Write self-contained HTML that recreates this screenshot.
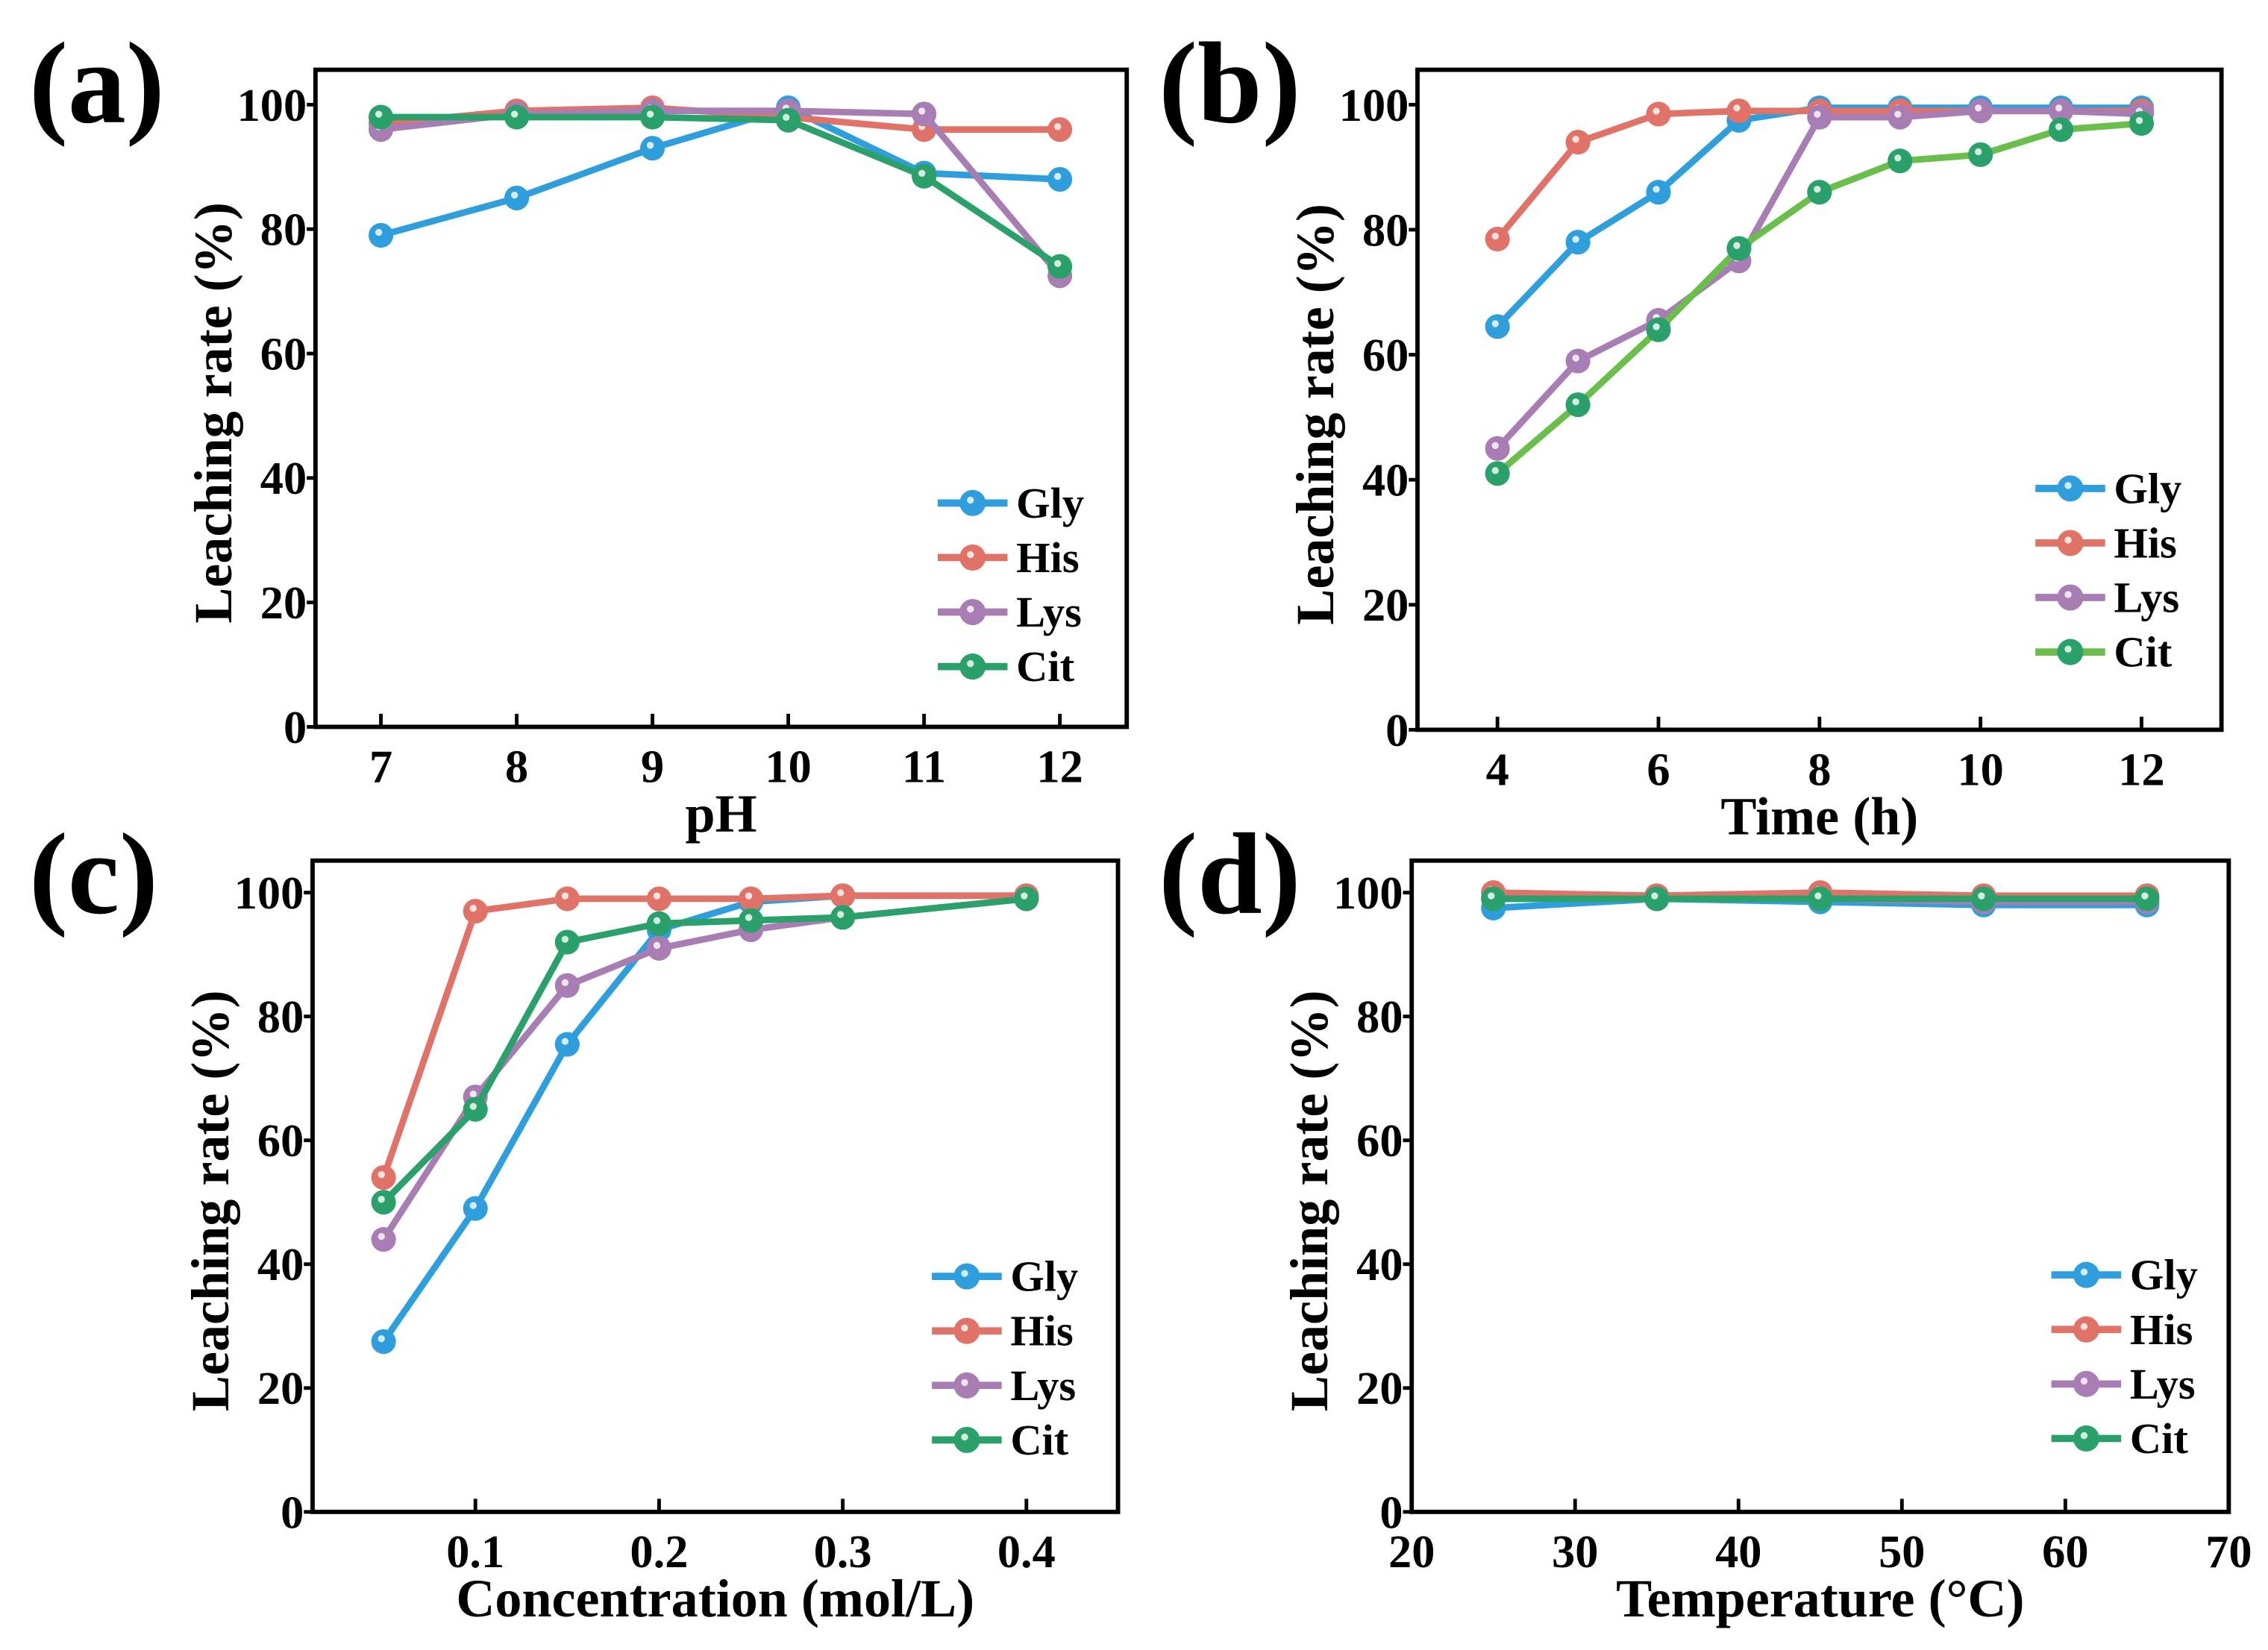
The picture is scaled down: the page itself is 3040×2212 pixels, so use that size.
<!DOCTYPE html>
<html><head><meta charset="utf-8"><style>
html,body{margin:0;padding:0;background:#fff;}
svg{display:block;font-family:"Liberation Serif",serif;font-weight:bold;}
</style></head><body>
<svg id="fig" width="3040" height="2212" viewBox="0 0 1560 1135" preserveAspectRatio="none" xmlns="http://www.w3.org/2000/svg"></svg>
<script>
// Panel (a) pH
const phX = [7,8,9,10,11,12];
const phGly = [79,85,93,99.5,89,88];
const phHis = [97,99,99.5,98,96,96];
const phLys = [96,98.5,99,99,98.5,72.5];
const phCit = [98,98,98,97.5,88.5,74];
const phTicks = [7,8,9,10,11,12];
// Panel (b) time
const tX = [4,5,6,7,8,9,10,11,12];
const tGly = [64.5,78,86,97.5,99.5,99.5,99.5,99.5,99.5];
const tHis = [78.5,94,98.5,99,99,99,99,99,99];
const tLys = [45,59,65.5,75,98,98,99,99,98.5];
const tCit = [41,52,64,77,86,91,92,96,97];
const tTicks = [4,6,8,10,12];
// Panel (c) concentration
const cX = [0.05,0.1,0.15,0.2,0.25,0.3,0.4];
const cGly = [27.5,49,75.5,94,98.5,99.5,99.5];
const cHis = [54,97,99,99,99,99.5,99.5];
const cLys = [44,67,85,91,94,96,99];
const cCit = [50,65,92,95,95.5,96,99];
const cTicks = [0.1,0.2,0.3,0.4];
// Panel (d) temperature
const dX = [25,35,45,55,65];
const dGly = [97.5,99,98.5,98,98];
const dHis = [100,99.5,100,99.5,99.5];
const dLys = [99,99,99,98.5,98.5];
const dCit = [99,99,99,99,99];
const dTicks = [20,30,40,50,60,70];
const yTicks = [0,20,40,60,80,100];
const seriesNames = ["Gly","His","Lys","Cit"];

const NS="http://www.w3.org/2000/svg";
const svg=document.getElementById('fig');
function mk(tag,attrs,parent){const e=document.createElementNS(NS,tag);for(const k in attrs)e.setAttribute(k,attrs[k]);(parent||svg).appendChild(e);return e;}

const C={Gly:"#2e9fdc",His:"#e07268",Lys:"#a87db4",Cit:"#2aa06a"};

function panel(p){
  const g=mk('g',{});
  
  
  const sx=v=>p.x0px+(v-p.x0)/(p.x1-p.x0)*(p.x1px-p.x0px);
  const sy=v=>p.y0px+(v/100)*(p.y100px-p.y0px);
  const lab=mk('text',{x:p.labX,y:p.T+36,'font-size':80},g);lab.textContent='('+p.id+')';
  
  
  yTicks.forEach(v=>{
    mk('line',{x1:p.L-6,x2:p.L,y1:sy(v),y2:sy(v),stroke:'#000','stroke-width':2.5},g);
    const t=mk('text',{x:p.L-6,y:sy(v)+11,'font-size':32,'text-anchor':'end'},g);t.textContent=v;
    
    
  });
  p.ticks.forEach(v=>{
    mk('line',{x1:sx(v),x2:sx(v),y1:p.B,y2:p.B-9,stroke:'#000','stroke-width':2.5},g);
    const t=mk('text',{x:sx(v),y:p.B+38,'font-size':32,'text-anchor':'middle'},g);t.textContent=v;
    
    
  });
  const yt=mk('text',{x:0,y:0,'font-size':37,'text-anchor':'middle',transform:`translate(${p.L-58},${(p.T+p.B)/2+10}) rotate(-90)`},g);
  yt.textContent='Leaching rate (%)';
  
  
  const xt=mk('text',{x:(p.L+p.R)/2,y:p.B+72,'font-size':37,'text-anchor':'middle'},g);
  xt.textContent=p.xlabel;
  
  
  const data=[p.gly,p.his,p.lys,p.cit];
  data.forEach((ys,i)=>{
    const nm=seriesNames[i];
    const lc=(nm==='Cit'&&p.citLine)?p.citLine:C[nm];
    const sg=mk('g',{},g);
    
    
    const pts=ys.map((v,j)=>sx(p.xs[j])+','+sy(v)).join(' ');
    mk('polyline',{points:pts,fill:'none',stroke:lc,'stroke-width':4.5,'stroke-linejoin':'round'},sg);
    ys.forEach((v,j)=>{
      const c=mk('circle',{cx:sx(p.xs[j]),cy:sy(v),r:8.5,fill:C[nm]},sg);
      
      
      mk('circle',{cx:sx(p.xs[j])-1.5,cy:sy(v)-2,r:2.4,fill:'#fff',opacity:0.8},sg);
    });
    const ly=p.legY+i*37.5;
    const le=mk('g',{},g);
    
    
    mk('line',{x1:p.legX,x2:p.legX+48,y1:ly,y2:ly,stroke:lc,'stroke-width':5},le);
    mk('circle',{cx:p.legX+24,cy:ly,r:9,fill:C[nm]},le);
    mk('circle',{cx:p.legX+22.5,cy:ly-2,r:2.4,fill:'#fff',opacity:0.8},le);
    const tt=mk('text',{x:p.legX+54,y:ly+10,'font-size':30},le);tt.textContent=nm;
  });
  const fr=mk('rect',{x:p.L,y:p.T,width:p.R-p.L,height:p.B-p.T,fill:'none',stroke:'#000','stroke-width':3},g);
  
  
}

panel({id:'a',labX:20,L:217,R:775,T:48,B:500,y0px:500,y100px:72,x0:7,x1:12,x0px:262,x1px:729,xs:phX,gly:phGly,his:phHis,lys:phLys,cit:phCit,ticks:phTicks,xlabel:'pH',legX:645,legY:346});
panel({id:'b',labX:797,L:975,R:1528,T:48,B:502,y0px:502,y100px:72,x0:4,x1:12,x0px:1030,x1px:1473,xs:tX,gly:tGly,his:tHis,lys:tLys,cit:tCit,ticks:tTicks,xlabel:'Time (h)',legX:1400,legY:336,citLine:'#6abf4b'});
panel({id:'c',labX:20,L:215,R:769,T:592,B:1040,y0px:1040,y100px:614,x0:0.1,x1:0.4,x0px:327,x1px:706,xs:cX,gly:cGly,his:cHis,lys:cLys,cit:cCit,ticks:cTicks,xlabel:'Concentration (mol/L)',legX:641,legY:878});
panel({id:'d',labX:797,L:971,R:1533,T:592,B:1040,y0px:1040,y100px:614,x0:20,x1:70,x0px:971,x1px:1533,xs:dX,gly:dGly,his:dHis,lys:dLys,cit:dCit,ticks:dTicks,xlabel:'Temperature (°C)',legX:1411,legY:877});
</script>
</body></html>
